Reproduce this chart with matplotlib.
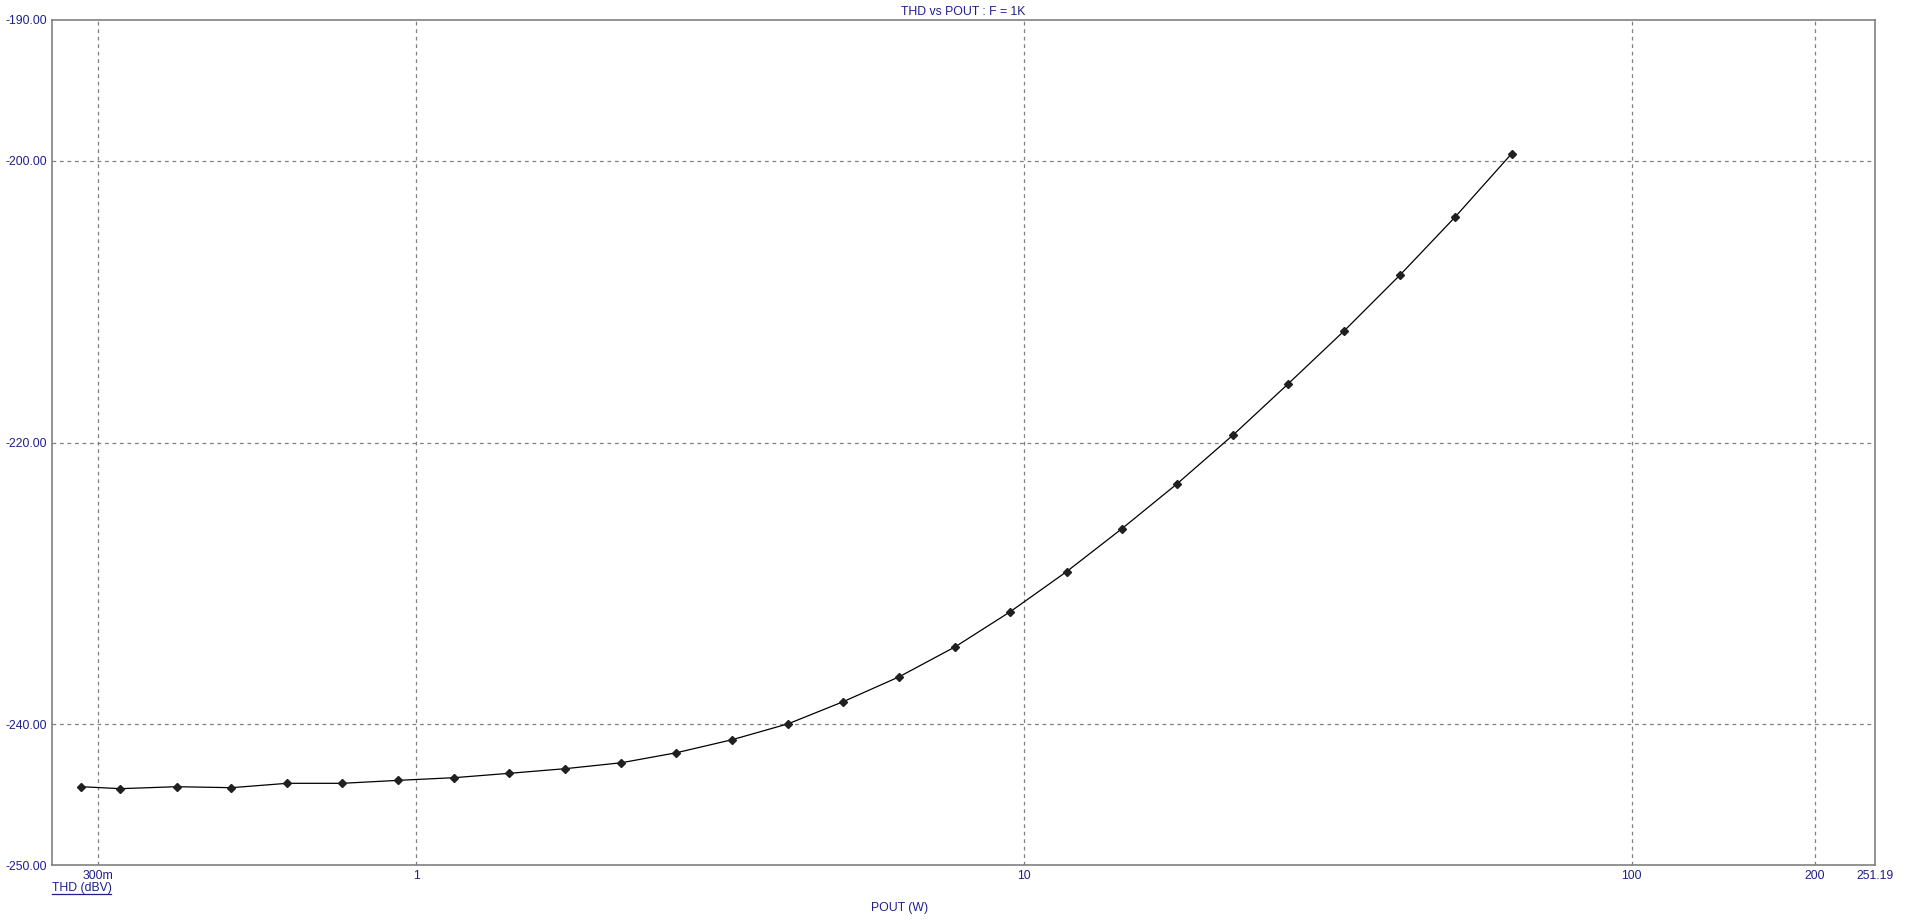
import matplotlib
matplotlib.use("Agg")
import matplotlib.pyplot as plt
from matplotlib.lines import Line2D

plt.rcParams['font.family'] = ['Liberation Sans', 'DejaVu Sans']

pout_w = [0.2812, 0.3262, 0.4035, 0.4966, 0.6135, 0.7555, 0.9341, 1.1545, 1.4225,
          1.760, 2.175, 2.679, 3.312, 4.095, 5.043, 6.235, 7.709, 9.495, 11.75,
          14.47, 17.87, 22.10, 27.22, 33.65, 41.61, 51.24, 63.42]
thd_dbv = [-244.44, -244.58, -244.44, -244.51, -244.20, -244.20, -243.99, -243.80,
           -243.49, -243.16, -242.74, -242.03, -241.10, -239.97, -238.40, -236.63,
           -234.50, -232.01, -229.17, -226.14, -222.92, -219.45, -215.82, -212.06,
           -208.08, -203.97, -199.49]

x_ticks = [0.3, 1, 10, 100, 200, 251.19]
x_tick_labels = ['300m', '1', '10', '100', '200', '251.19']
x_grid = [0.3, 1, 10, 100, 200]
y_ticks = [-250, -240, -220, -200, -190]
y_tick_labels = ['-250.00', '-240.00', '-220.00', '-200.00', '-190.00']
y_grid = [-240, -220, -200]

title = 'THD vs POUT : F = 1K'
xlabel = 'POUT (W)'
ylabel = 'THD (dBV)'

navy = '#1f1f8c'
gray = '#808080'
fs = 8.8

fig = plt.figure(figsize=(19.07, 9.24), dpi=100)
ax = fig.add_axes([51.5 / 1907, 59 / 924, (1875 - 51.5) / 1907, (865 - 20) / 924])
ax.set_xscale('log')
ax.set_xlim(0.25119, 251.19)
ax.set_ylim(-250, -190)

for g in x_grid:
    ax.axvline(g, color=gray, lw=0.9, ls=(0, (3, 3)), zorder=1)
for g in y_grid:
    ax.axhline(g, color=gray, lw=0.9, ls=(0, (3, 3)), zorder=1)

ax.plot(pout_w, thd_dbv, color='black', lw=0.9, marker='D', markersize=4.4,
        markerfacecolor='#202020', markeredgecolor='#202020', zorder=3)

ax.set_xticks(x_ticks)
ax.set_xticklabels(x_tick_labels)
ax.xaxis.set_minor_locator(matplotlib.ticker.NullLocator())
ax.set_yticks(y_ticks)
ax.set_yticklabels(y_tick_labels)
ax.tick_params(axis='both', length=0, labelsize=fs, labelcolor=navy)
ax.tick_params(axis='x', pad=3.5)
ax.tick_params(axis='y', pad=3.5)

for s in ax.spines.values():
    s.set_color(gray)
    s.set_linewidth(1.2)

fig.text(0.5 * (51.5 + 1875) / 1907, 1 - 12 / 924, title, ha='center', va='center',
         fontsize=fs, color=navy)
fig.text(900 / 1907, 1 - 908 / 924, xlabel, ha='center', va='center',
         fontsize=fs, color=navy)
t = fig.text(51.5 / 1907, 1 - 888 / 924, ylabel, ha='left', va='center',
             fontsize=fs, color=navy)

fig.canvas.draw()
bb = t.get_window_extent(fig.canvas.get_renderer())
fw, fh = fig.bbox.width, fig.bbox.height
fig.add_artist(Line2D([bb.x0 / fw, bb.x1 / fw], [(bb.y0 + 0.5) / fh, (bb.y0 + 0.5) / fh],
                      color=navy, lw=0.9, transform=fig.transFigure))

fig.savefig('out.png', dpi=100, facecolor='white')
